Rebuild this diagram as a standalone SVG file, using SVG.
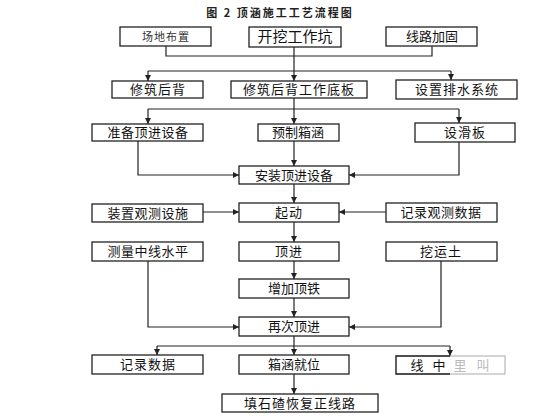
<svg xmlns="http://www.w3.org/2000/svg" width="560" height="420" viewBox="0 0 560 420">
<style>
.b{fill:#fff;stroke:#222;stroke-width:1.3}
.t{font-family:"Noto Sans CJK SC",sans-serif;font-size:13px;fill:#111;text-anchor:middle}
.s{font-size:11px;fill:#333}
.l{fill:none;stroke:#222;stroke-width:1.2}
.h{font-family:"Noto Sans CJK SC",sans-serif;font-size:11px;font-weight:bold;fill:#222;text-anchor:middle}
</style>
<defs>
<marker id="a" viewBox="0 0 8 8" refX="8" refY="4" markerWidth="6" markerHeight="6" orient="auto" markerUnits="userSpaceOnUse">
<path d="M0,0L8,4L0,8z" fill="#222"/>
</marker>
</defs>
<rect width="560" height="420" fill="#fff"/>
<text class="h" x="280" y="17" letter-spacing="2">图 2  顶涵施工工艺流程图</text>
<g id="connectors" class="l">
<path d="M166,46V56H432V46"/>
<path d="M294,47V71"/>
<path d="M148,71H451"/>
<path d="M148,71V81" marker-end="url(#a)"/>
<path d="M294,71V81" marker-end="url(#a)"/>
<path d="M451,71V80" marker-end="url(#a)"/>
<path d="M294,98V109"/>
<path d="M148,109H459"/>
<path d="M148,109V124" marker-end="url(#a)"/>
<path d="M294,109V124" marker-end="url(#a)"/>
<path d="M459,109V123" marker-end="url(#a)"/>
<path d="M138,141V175H239" marker-end="url(#a)"/>
<path d="M459,142V175H349" marker-end="url(#a)"/>
<path d="M294,141V166" marker-end="url(#a)"/>
<path d="M294,184V203" marker-end="url(#a)"/>
<path d="M203,212H239" marker-end="url(#a)"/>
<path d="M386,212H339" marker-end="url(#a)"/>
<path d="M294,222V242" marker-end="url(#a)"/>
<path d="M294,261V279" marker-end="url(#a)"/>
<path d="M294,298V317" marker-end="url(#a)"/>
<path d="M148,261V327H239" marker-end="url(#a)"/>
<path d="M441,261V327H349" marker-end="url(#a)"/>
<path d="M294,336V355" marker-end="url(#a)"/>
<path d="M157,346H450"/>
<path d="M157,346V355" marker-end="url(#a)"/>
<path d="M450,346V356" marker-end="url(#a)"/>
<path d="M294,374V394" marker-end="url(#a)"/>
</g>
<g id="n1"><rect class="b" x="120" y="27" width="91" height="19"/><text class="t s" x="166" y="41" letter-spacing="1">场地布置</text></g>
<g id="n2"><rect class="b" x="249" y="27" width="92" height="20"/><text class="t" x="295" y="42" style="font-size:15px">开挖工作坑</text></g>
<g id="n3"><rect class="b" x="386" y="27" width="91" height="19"/><text class="t" x="432" y="41">线路加固</text></g>
<g id="n4"><rect class="b" x="112" y="81" width="91" height="17"/><text class="t" x="158" y="94" letter-spacing="1">修筑后背</text></g>
<g id="n5"><rect class="b" x="231" y="81" width="136" height="17"/><text class="t" x="299" y="94" letter-spacing="1">修筑后背工作底板</text></g>
<g id="n6"><rect class="b" x="396" y="80" width="121" height="19"/><text class="t" x="457" y="94" letter-spacing="1">设置排水系统</text></g>
<g id="n7"><rect class="b" x="92" y="124" width="111" height="17"/><text class="t" x="148" y="137" letter-spacing="0.5">准备顶进设备</text></g>
<g id="n8"><rect class="b" x="258" y="124" width="81" height="17"/><text class="t" x="298" y="137">预制箱涵</text></g>
<g id="n9"><rect class="b" x="415" y="123" width="100" height="19"/><text class="t" x="465" y="137" letter-spacing="1">设滑板</text></g>
<g id="n10"><rect class="b" x="239" y="166" width="110" height="18"/><text class="t" x="294" y="180">安装顶进设备</text></g>
<g id="n11"><rect class="b" x="92" y="204" width="111" height="18"/><text class="t" x="148" y="218" letter-spacing="0.5">装置观测设施</text></g>
<g id="n12"><rect class="b" x="239" y="203" width="100" height="19"/><text class="t" x="289" y="217" letter-spacing="1">起动</text></g>
<g id="n13"><rect class="b" x="386" y="203" width="111" height="19"/><text class="t" x="441" y="217" letter-spacing="0.5">记录观测数据</text></g>
<g id="n14"><rect class="b" x="92" y="242" width="111" height="19"/><text class="t" x="148" y="256" letter-spacing="0.5">测量中线水平</text></g>
<g id="n15"><rect class="b" x="239" y="242" width="100" height="19"/><text class="t" x="289" y="256" letter-spacing="1">顶进</text></g>
<g id="n16"><rect class="b" x="386" y="242" width="111" height="19"/><text class="t" x="441" y="256" letter-spacing="1">挖运土</text></g>
<g id="n17"><rect class="b" x="239" y="279" width="110" height="19"/><text class="t" x="294" y="293">增加顶铁</text></g>
<g id="n18"><rect class="b" x="239" y="317" width="110" height="19"/><text class="t" x="294" y="331">再次顶进</text></g>
<g id="n19"><rect class="b" x="92" y="355" width="111" height="19"/><text class="t" x="148" y="369" letter-spacing="1">记录数据</text></g>
<g id="n20"><rect class="b" x="239" y="355" width="110" height="19"/><text class="t" x="294" y="369">箱涵就位</text></g>
<g id="n21"><rect x="396" y="356" width="109" height="18" fill="#fff" stroke="#aaa" stroke-width="1"/><path d="M450,356H396V374H450" fill="none" stroke="#222" stroke-width="1.3"/><text class="t" x="417" y="370">线</text><text class="t" x="439" y="370">中</text><text class="t" x="460" y="370" style="fill:#bbb">里</text><text class="t" x="483" y="370" style="fill:#bbb">叫</text></g>
<g id="n22"><rect class="b" x="222" y="394" width="156" height="18"/><text class="t" x="300" y="408" letter-spacing="1">填石碴恢复正线路</text></g>
</svg>
